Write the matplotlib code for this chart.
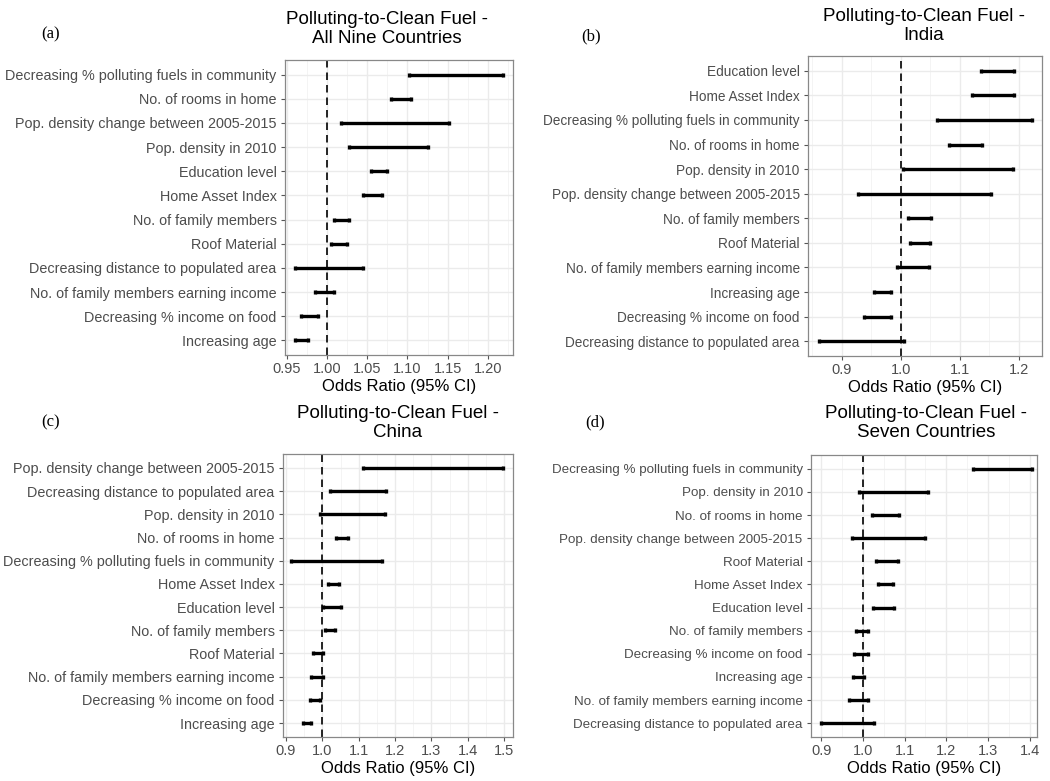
import matplotlib.pyplot as plt
from matplotlib.ticker import MultipleLocator

plt.rcParams['font.family'] = ['Liberation Sans', 'DejaVu Sans']

# labels listed top to bottom, with lower / upper 95% CI of the odds ratio
a_labels = ["Decreasing % polluting fuels in community", "No. of rooms in home",
            "Pop. density change between 2005-2015", "Pop. density in 2010",
            "Education level", "Home Asset Index", "No. of family members",
            "Roof Material", "Decreasing distance to populated area",
            "No. of family members earning income", "Decreasing % income on food",
            "Increasing age"]
a_low = [1.102, 1.079, 1.018, 1.028, 1.055, 1.045, 1.009, 1.005, 0.961, 0.985, 0.968, 0.961]
a_high = [1.218, 1.104, 1.152, 1.126, 1.075, 1.069, 1.028, 1.025, 1.045, 1.009, 0.989, 0.976]

b_labels = ["Education level", "Home Asset Index",
            "Decreasing % polluting fuels in community", "No. of rooms in home",
            "Pop. density in 2010", "Pop. density change between 2005-2015",
            "No. of family members", "Roof Material",
            "No. of family members earning income", "Increasing age",
            "Decreasing % income on food", "Decreasing distance to populated area"]
b_low = [1.135, 1.120, 1.061, 1.081, 1.003, 0.928, 1.013, 1.015, 0.994, 0.954, 0.938, 0.861]
b_high = [1.192, 1.191, 1.222, 1.138, 1.190, 1.153, 1.051, 1.049, 1.047, 0.983, 0.983, 1.006]

c_labels = ["Pop. density change between 2005-2015", "Decreasing distance to populated area",
            "Pop. density in 2010", "No. of rooms in home",
            "Decreasing % polluting fuels in community", "Home Asset Index",
            "Education level", "No. of family members", "Roof Material",
            "No. of family members earning income", "Decreasing % income on food",
            "Increasing age"]
c_low = [1.112, 1.020, 0.993, 1.038, 0.915, 1.017, 1.002, 1.007, 0.974, 0.969, 0.965, 0.947]
c_high = [1.496, 1.175, 1.171, 1.070, 1.164, 1.046, 1.052, 1.034, 1.002, 1.002, 0.995, 0.970]

d_labels = ["Decreasing % polluting fuels in community", "Pop. density in 2010",
            "No. of rooms in home", "Pop. density change between 2005-2015",
            "Roof Material", "Home Asset Index", "Education level",
            "No. of family members", "Decreasing % income on food", "Increasing age",
            "No. of family members earning income", "Decreasing distance to populated area"]
d_low = [1.264, 0.990, 1.022, 0.974, 1.030, 1.035, 1.024, 0.984, 0.979, 0.975, 0.966, 0.898]
d_high = [1.406, 1.155, 1.086, 1.148, 1.083, 1.071, 1.074, 1.012, 1.012, 1.002, 1.012, 1.027]

W, H = 1050, 781
fig = plt.figure(figsize=(W / 100, H / 100), dpi=100)


def rect(left, top, right, bottom):
    return [left / W, 1 - bottom / H, (right - left) / W, (bottom - top) / H]


def draw_panel(box, labels, low, high, xlim, step, fmt, title, title_xy, tag, tag_xy,
               ysize=9.6):
    ax = fig.add_axes(rect(*box))
    n = len(labels)
    ys = list(range(n, 0, -1))
    mid = [(lo + hi) / 2 for lo, hi in zip(low, high)]
    err = [(hi - lo) / 2 for lo, hi in zip(low, high)]
    ax.errorbar(mid, ys, xerr=err, fmt='none', ecolor='black', elinewidth=2.4,
                capsize=1.6, capthick=2.4, zorder=3)
    ax.axvline(1.0, color='black', ls=(0, (4.5, 3)), lw=1.2, zorder=2)
    ax.set_yticks(ys)
    ax.set_yticklabels(labels, fontsize=ysize, color='#4D4D4D')
    ax.set_ylim(0.4, n + 0.6)
    ax.set_xlim(*xlim)
    ax.xaxis.set_major_locator(MultipleLocator(step))
    ax.xaxis.set_minor_locator(MultipleLocator(step / 2))
    ax.xaxis.set_major_formatter(fmt)
    ax.tick_params(axis='x', labelsize=10.5, labelcolor='#4D4D4D', length=3,
                   color='#555555', pad=2)
    ax.tick_params(axis='x', which='minor', length=0)
    ax.tick_params(axis='y', length=3, color='#555555', pad=3)
    ax.grid(which='major', color='#EBEBEB', lw=1.0)
    ax.grid(which='minor', axis='x', color='#F3F3F3', lw=0.6)
    ax.set_axisbelow(True)
    for s in ax.spines.values():
        s.set_color('#888888')
        s.set_linewidth(0.9)
    ax.set_xlabel("Odds Ratio (95% CI)", fontsize=12, labelpad=2)
    fig.text(title_xy[0] / W, 1 - title_xy[1] / H, title, fontsize=13.5,
             ha='center', va='center', multialignment='center', linespacing=1.1)
    fig.text(tag_xy[0] / W, 1 - tag_xy[1] / H, tag, fontsize=12,
             family='Liberation Serif', ha='center', va='center')
    return ax


draw_panel((285, 60, 513, 355), a_labels, a_low, high=a_high, xlim=(0.948, 1.231),
           step=0.05, fmt='{x:.2f}',
           title="Polluting-to-Clean Fuel -\nAll Nine Countries", title_xy=(387, 29),
           tag="(a)", tag_xy=(51, 34), ysize=10.4)
draw_panel((808, 56, 1042, 356), b_labels, b_low, high=b_high, xlim=(0.843, 1.239),
           step=0.1, fmt='{x:.1f}',
           title="Polluting-to-Clean Fuel -\nIndia", title_xy=(924, 26),
           tag="(b)", tag_xy=(591, 36), ysize=9.8)
draw_panel((283, 454, 513, 737), c_labels, c_low, high=c_high, xlim=(0.892, 1.524),
           step=0.1, fmt='{x:.1f}',
           title="Polluting-to-Clean Fuel -\nChina", title_xy=(398, 423),
           tag="(c)", tag_xy=(51, 422), ysize=10.4)
draw_panel((811, 455, 1037, 737), d_labels, d_low, high=d_high, xlim=(0.875, 1.418),
           step=0.1, fmt='{x:.1f}',
           title="Polluting-to-Clean Fuel -\nSeven Countries", title_xy=(926, 423),
           tag="(d)", tag_xy=(595, 422), ysize=9.6)

fig.savefig("out.png", dpi=100)
